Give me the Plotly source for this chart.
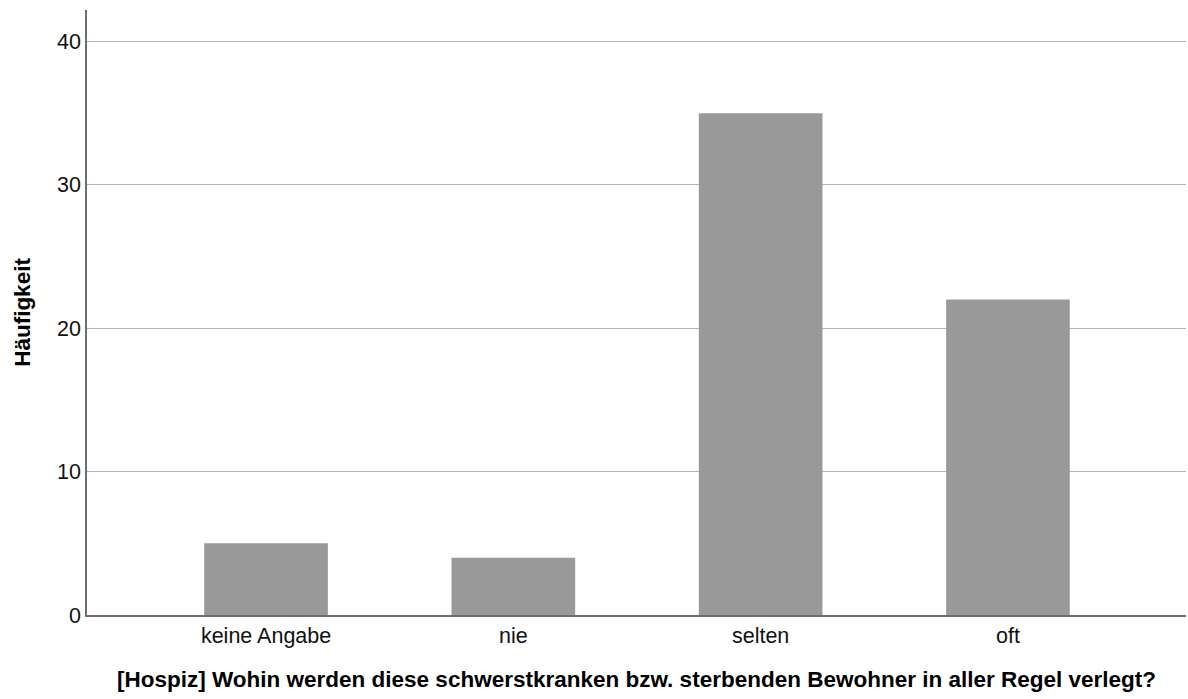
import plotly.graph_objects as go

categories = ["keine Angabe", "nie", "selten", "oft"]
counts = [5, 4, 35, 22]
y_ticks = [0, 10, 20, 30, 40]

fig = go.Figure(
    go.Bar(
        x=categories,
        y=counts,
        width=0.5,
        marker=dict(color="#999999", line=dict(width=0)),
        hoverinfo="x+y",
    )
)

font_family = "Liberation Sans, Arial, sans-serif"

fig.update_layout(
    width=1188,
    height=699,
    margin=dict(l=87, r=2, t=10, b=84),
    paper_bgcolor="white",
    plot_bgcolor="white",
    showlegend=False,
    font=dict(family=font_family, size=22, color="#000000"),
)

fig.update_xaxes(
    type="category",
    range=[-0.724, 3.72],
    showline=True,
    linecolor="#6e6e6e",
    linewidth=1.5,
    showgrid=False,
    ticks="",
    automargin=False,
    tickfont=dict(size=21.5, color="#111111"),
    title=dict(
        text="<b>[Hospiz] Wohin werden diese schwerstkranken bzw. sterbenden Bewohner in aller Regel verlegt?</b>",
        font=dict(size=22.5, color="#000000"),
        standoff=25,
    ),
)

fig.update_yaxes(
    range=[0, 42.2],
    tickvals=y_ticks,
    showline=True,
    linecolor="#6e6e6e",
    linewidth=1.5,
    showgrid=True,
    gridcolor="#b4b4b4",
    gridwidth=1,
    zeroline=False,
    ticks="",
    automargin=False,
    tickfont=dict(size=21.5, color="#111111"),
    title=dict(
        text="<b>Häufigkeit</b>",
        font=dict(size=22.5, color="#000000"),
        standoff=20,
    ),
)

fig.write_html("out.html")
